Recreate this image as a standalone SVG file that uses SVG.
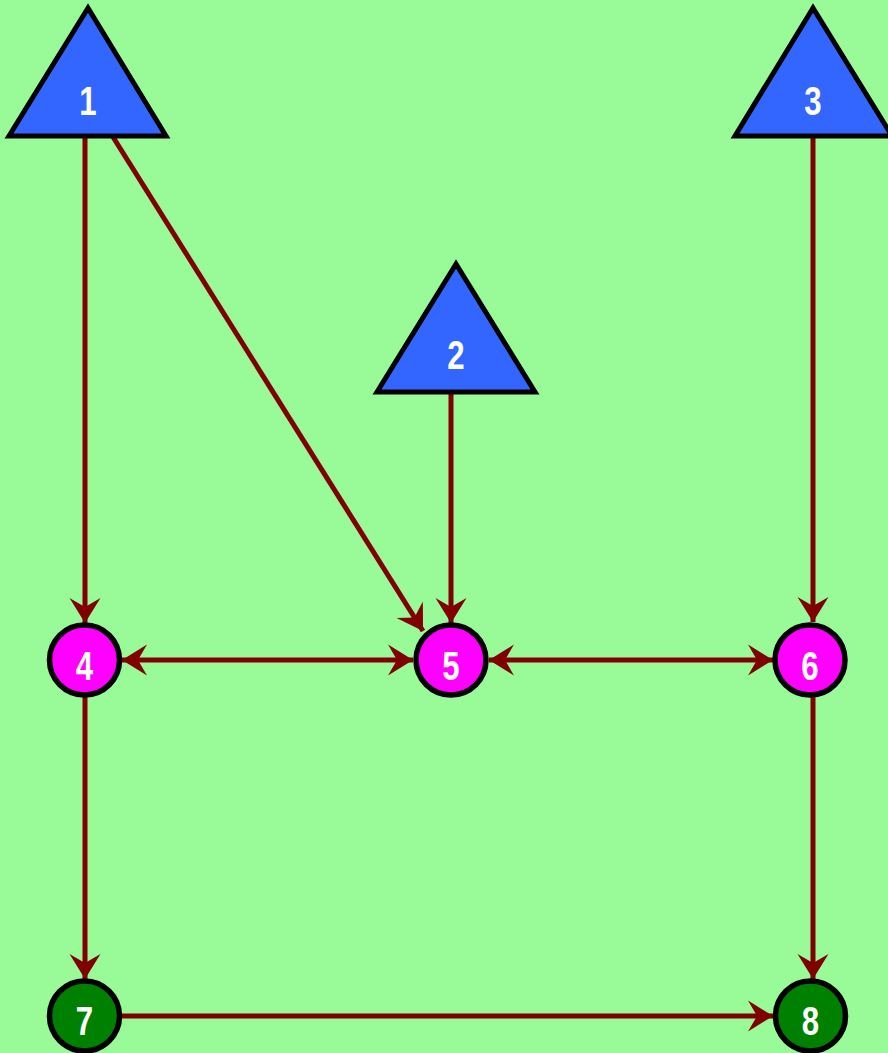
<svg xmlns="http://www.w3.org/2000/svg" width="888" height="1053" viewBox="0 0 888 1053">
<style>
.tri{fill:#3366FF;stroke:#000;stroke-width:5;stroke-linejoin:miter}
.mag{fill:#FF00FF;stroke:#000;stroke-width:5.5}
.grn{fill:#008000;stroke:#000;stroke-width:5.5}
.lbl{font-family:"Liberation Sans",Arial,sans-serif;font-weight:bold;font-size:40px;fill:#fff;text-anchor:middle}
.edge{stroke:#800000;stroke-width:5;fill:none}
</style>
<defs>
<marker id="ah" markerUnits="userSpaceOnUse" orient="auto-start-reverse" refX="0" refY="0" markerWidth="30" markerHeight="30" overflow="visible">
<path d="M0,0 L-25,-15.5 L-16,0 L-25,15.5 Z" fill="#800000"/>
</marker>
</defs>
<rect width="888" height="1053" fill="#98FB98"/>
<g id="edges">
<line class="edge" x1="85" y1="136" x2="85" y2="623" marker-end="url(#ah)"/>
<line class="edge" x1="113" y1="137" x2="423" y2="631" marker-end="url(#ah)"/>
<line class="edge" x1="451" y1="392" x2="451" y2="623" marker-end="url(#ah)"/>
<line class="edge" x1="813" y1="136" x2="813" y2="622" marker-end="url(#ah)"/>
<line class="edge" x1="122" y1="660" x2="413" y2="660" marker-start="url(#ah)" marker-end="url(#ah)"/>
<line class="edge" x1="489" y1="660" x2="773" y2="660" marker-start="url(#ah)" marker-end="url(#ah)"/>
<line class="edge" x1="85" y1="697" x2="85" y2="979" marker-end="url(#ah)"/>
<line class="edge" x1="813" y1="697" x2="813" y2="979" marker-end="url(#ah)"/>
<line class="edge" x1="122" y1="1016" x2="773" y2="1016" marker-end="url(#ah)"/>
</g>
<g id="node1"><polygon class="tri" points="88,8 9,136 166,136"/><text class="lbl" transform="translate(88,115) scale(0.78,1)">1</text></g>
<g id="node2"><polygon class="tri" points="456,264 377,392 535,392"/><text class="lbl" transform="translate(456,369) scale(0.78,1)">2</text></g>
<g id="node3"><polygon class="tri" points="813,8 735,136 892,136"/><text class="lbl" transform="translate(813,115) scale(0.78,1)">3</text></g>
<g id="node4"><circle class="mag" cx="84.5" cy="660" r="35"/><text class="lbl" transform="translate(84.5,680) scale(0.78,1)">4</text></g>
<g id="node5"><circle class="mag" cx="451" cy="660" r="35"/><text class="lbl" transform="translate(451,680) scale(0.78,1)">5</text></g>
<g id="node6"><circle class="mag" cx="810" cy="660" r="35"/><text class="lbl" transform="translate(810,680) scale(0.78,1)">6</text></g>
<g id="node7"><circle class="grn" cx="84.5" cy="1016" r="35"/><text class="lbl" transform="translate(84.5,1035) scale(0.78,1)">7</text></g>
<g id="node8"><circle class="grn" cx="810.5" cy="1016" r="35"/><text class="lbl" transform="translate(810.5,1035) scale(0.78,1)">8</text></g>
</svg>
